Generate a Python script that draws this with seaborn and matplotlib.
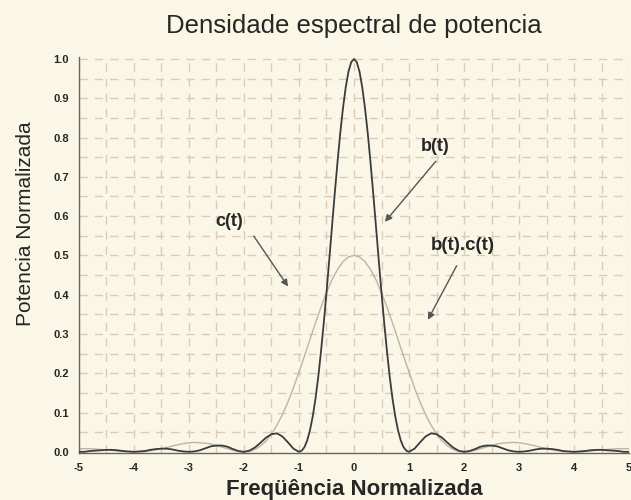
import matplotlib
matplotlib.use("Agg")
import matplotlib.pyplot as plt
import seaborn as sns
import pandas as pd
import numpy as np

# Black curve b(t): read from 0 to 5 (symmetric about 0)
freq_b_pos = [0.0, 0.05, 0.1, 0.15, 0.2, 0.25, 0.3, 0.35, 0.4, 0.45, 0.5,
              0.55, 0.6, 0.65, 0.7, 0.75, 0.8, 0.85, 0.9, 0.95, 1.0,
              1.1, 1.2, 1.3, 1.4, 1.5, 1.6, 1.7, 1.8, 1.9, 2.0,
              2.1, 2.2, 2.3, 2.4, 2.5, 2.6, 2.7, 2.8, 2.9, 3.0,
              3.1, 3.2, 3.3, 3.4, 3.5, 3.6, 3.7, 3.8, 3.9, 4.0,
              4.1, 4.2, 4.3, 4.4, 4.5, 4.6, 4.7, 4.8, 4.9, 5.0]
psd_b_pos = [1.000, 0.992, 0.968, 0.928, 0.875, 0.811, 0.737, 0.657, 0.573, 0.488, 0.405,
             0.327, 0.255, 0.190, 0.135, 0.090, 0.055, 0.029, 0.012, 0.003, 0.000,
             0.008, 0.024, 0.039, 0.047, 0.045, 0.036, 0.023, 0.011, 0.003, 0.000,
             0.002, 0.007, 0.013, 0.016, 0.016, 0.014, 0.009, 0.004, 0.001, 0.000,
             0.001, 0.003, 0.006, 0.008, 0.008, 0.007, 0.005, 0.002, 0.001, 0.000,
             0.001, 0.002, 0.004, 0.005, 0.005, 0.004, 0.003, 0.002, 0.000, 0.000]
# Gray curve: read at 0.1 steps from 0 to 5
freq_c_pos = [round(0.1 * i, 1) for i in range(51)]
psd_c_pos = [0.500, 0.496, 0.484, 0.464, 0.438, 0.405, 0.368, 0.328, 0.286, 0.244,
             0.203, 0.163, 0.127, 0.095, 0.068, 0.045, 0.027, 0.015, 0.006, 0.001,
             0.000, 0.001, 0.004, 0.008, 0.012, 0.016, 0.020, 0.022, 0.023, 0.024,
             0.023, 0.021, 0.018, 0.015, 0.011, 0.008, 0.005, 0.003, 0.001, 0.000,
             0.000, 0.000, 0.001, 0.002, 0.004, 0.005, 0.006, 0.007, 0.008, 0.008,
             0.008]

x_ticks = [-5, -4, -3, -2, -1, 0, 1, 2, 3, 4, 5]
y_ticks = [0.0, 0.1, 0.2, 0.3, 0.4, 0.5, 0.6, 0.7, 0.8, 0.9, 1.0]

def full(xs, ys):
    fx = [-v for v in xs[:0:-1]] + xs
    fy = ys[:0:-1] + ys
    return fx, fy

fb, pb = full(freq_b_pos, psd_b_pos)
fc, pc = full(freq_c_pos, psd_c_pos)
df_b = pd.DataFrame({"f": fb, "p": pb})
df_c = pd.DataFrame({"f": fc, "p": pc})

bg = "#fbf7e6"
sns.set_theme(style="white")
plt.rcParams['font.family'] = ['Liberation Sans', 'DejaVu Sans']

fig = plt.figure(figsize=(6.31, 5.0), dpi=100, facecolor=bg)
ax = fig.add_axes([0.125, 0.094, 0.872, 0.792], facecolor=bg)

# grid
for gx in np.arange(-5, 5.01, 0.5):
    ax.axvline(gx, color="#dccbbd", lw=1.0, ls=(0, (6, 5)), zorder=0)
for gy in np.arange(0.05, 1.001, 0.05):
    ax.axhline(gy, color="#dccbbd", lw=1.0, ls=(0, (6, 5)), zorder=0)

sns.lineplot(data=df_c, x="f", y="p", ax=ax, color="#bdb3a9", lw=1.0, zorder=2)
sns.lineplot(data=df_b, x="f", y="p", ax=ax, color="#3c3c3c", lw=1.3, zorder=3)

ax.set_xlim(-5, 5)
ax.set_ylim(-0.003, 1.005)
ax.set_xticks(x_ticks)
ax.set_xticklabels([str(v) for v in x_ticks], fontsize=8, fontweight="bold")
ax.set_yticks(y_ticks)
ax.set_yticklabels([f"{v:.1f}" for v in y_ticks], fontsize=8, fontweight="bold")
ax.tick_params(axis="both", length=4, width=0.8, color="#555555", pad=3)
ax.tick_params(axis="y", direction="inout", length=8)

for s in ["top", "right"]:
    ax.spines[s].set_visible(False)
ax.spines["left"].set_color("#666666")
ax.spines["bottom"].set_color("#666666")
ax.spines["left"].set_linewidth(1.0)
ax.spines["bottom"].set_linewidth(1.0)

ax.set_xlabel("Freqüência Normalizada", fontsize=16, fontweight="bold")
ax.xaxis.set_label_coords(0.5, -0.066)
ax.set_ylabel("Potencia Normalizada", fontsize=15)
ax.yaxis.set_label_coords(-0.08, 0.58)
ax.set_title("Densidade espectral de potencia", fontsize=18.5, pad=17)

arrow = dict(arrowstyle="-|>", color="#555555", lw=1.0, mutation_scale=10)
ax.annotate("", xy=(-1.17, 0.415), xytext=(-1.85, 0.555), arrowprops=arrow)
ax.text(-2.27, 0.585, "c(t)", fontsize=13, fontweight="bold", ha="center", va="center")
ax.annotate("", xy=(0.53, 0.58), xytext=(1.52, 0.745), arrowprops=arrow)
ax.text(1.48, 0.777, "b(t)", fontsize=13, fontweight="bold", ha="center", va="center")
ax.annotate("", xy=(1.32, 0.33), xytext=(1.89, 0.48), arrowprops=arrow)
ax.text(1.97, 0.525, "b(t).c(t)", fontsize=13.5, fontweight="bold", ha="center", va="center")

fig.savefig("out.png", dpi=100, facecolor=bg)
